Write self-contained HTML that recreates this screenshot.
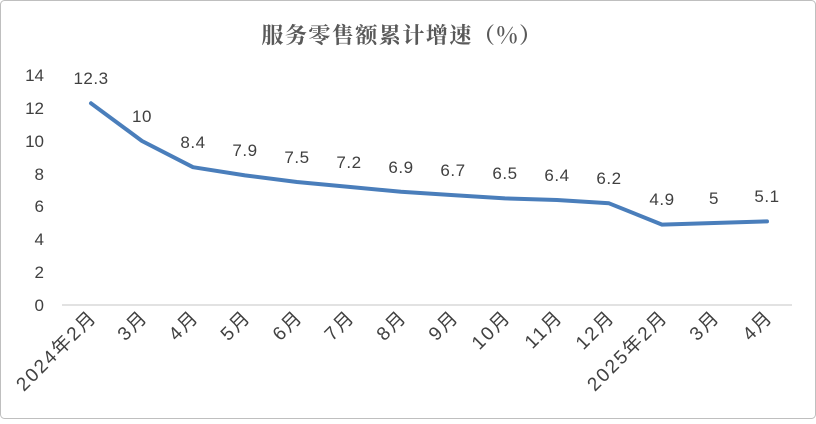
<!DOCTYPE html>
<html><head><meta charset="utf-8"><style>
body{margin:0;background:#fff}
svg text{font-family:"Liberation Sans","Noto Sans CJK SC",sans-serif;fill:#404040}
</style></head><body>
<svg width="816" height="419" xmlns="http://www.w3.org/2000/svg">
<rect x="0.5" y="0.5" width="815" height="418" rx="4" fill="#fff" stroke="#bfbfbf"/>
<text x="402" y="43" text-anchor="middle" font-size="22" style="fill:#595959;font-family:'Noto Serif CJK SC','Liberation Serif',serif;font-weight:bold;letter-spacing:1.5px">服务零售额累计增速（%）</text>
<line x1="62" y1="305" x2="792" y2="305" stroke="#d9d9d9" stroke-width="1.5"/>
<g font-size="17" text-anchor="end">
<text x="44" y="311">0</text><text x="44" y="278">2</text><text x="44" y="245">4</text><text x="44" y="212">6</text><text x="44" y="180">8</text><text x="44" y="147">10</text><text x="44" y="114">12</text><text x="44" y="81">14</text>
</g>
<polyline fill="none" stroke="#4a7ebb" stroke-width="4" stroke-linejoin="round" stroke-linecap="round"
points="91,103.3 142,141 193,167.2 245,175.4 297,182 349,186.9 401,191.8 453,195.1 505,198.4 557,200 609,203.3 662,224.6 714,223 767,221.4"/>
<g font-size="17" text-anchor="middle" style="letter-spacing:0.5px">
<text x="91" y="84">12.3</text><text x="142" y="122">10</text><text x="193" y="148">8.4</text><text x="245" y="156">7.9</text><text x="297" y="163">7.5</text><text x="349" y="168">7.2</text><text x="401" y="173">6.9</text><text x="453" y="176">6.7</text><text x="505" y="179">6.5</text><text x="557" y="181">6.4</text><text x="609" y="184">6.2</text><text x="662" y="205">4.9</text><text x="714" y="204">5</text><text x="767" y="202">5.1</text>
</g>
<g font-size="19" text-anchor="end" style="letter-spacing:2px">
<text transform="translate(98,318) rotate(-45)">2024年2月</text>
<text transform="translate(149,318) rotate(-45)">3月</text>
<text transform="translate(200,318) rotate(-45)">4月</text>
<text transform="translate(252,318) rotate(-45)">5月</text>
<text transform="translate(304,318) rotate(-45)">6月</text>
<text transform="translate(356,318) rotate(-45)">7月</text>
<text transform="translate(408,318) rotate(-45)">8月</text>
<text transform="translate(460,318) rotate(-45)">9月</text>
<text transform="translate(512,318) rotate(-45)">10月</text>
<text transform="translate(564,318) rotate(-45)">11月</text>
<text transform="translate(616,318) rotate(-45)">12月</text>
<text transform="translate(669,318) rotate(-45)">2025年2月</text>
<text transform="translate(721,318) rotate(-45)">3月</text>
<text transform="translate(774,318) rotate(-45)">4月</text>
</g>
</svg>
</body></html>
